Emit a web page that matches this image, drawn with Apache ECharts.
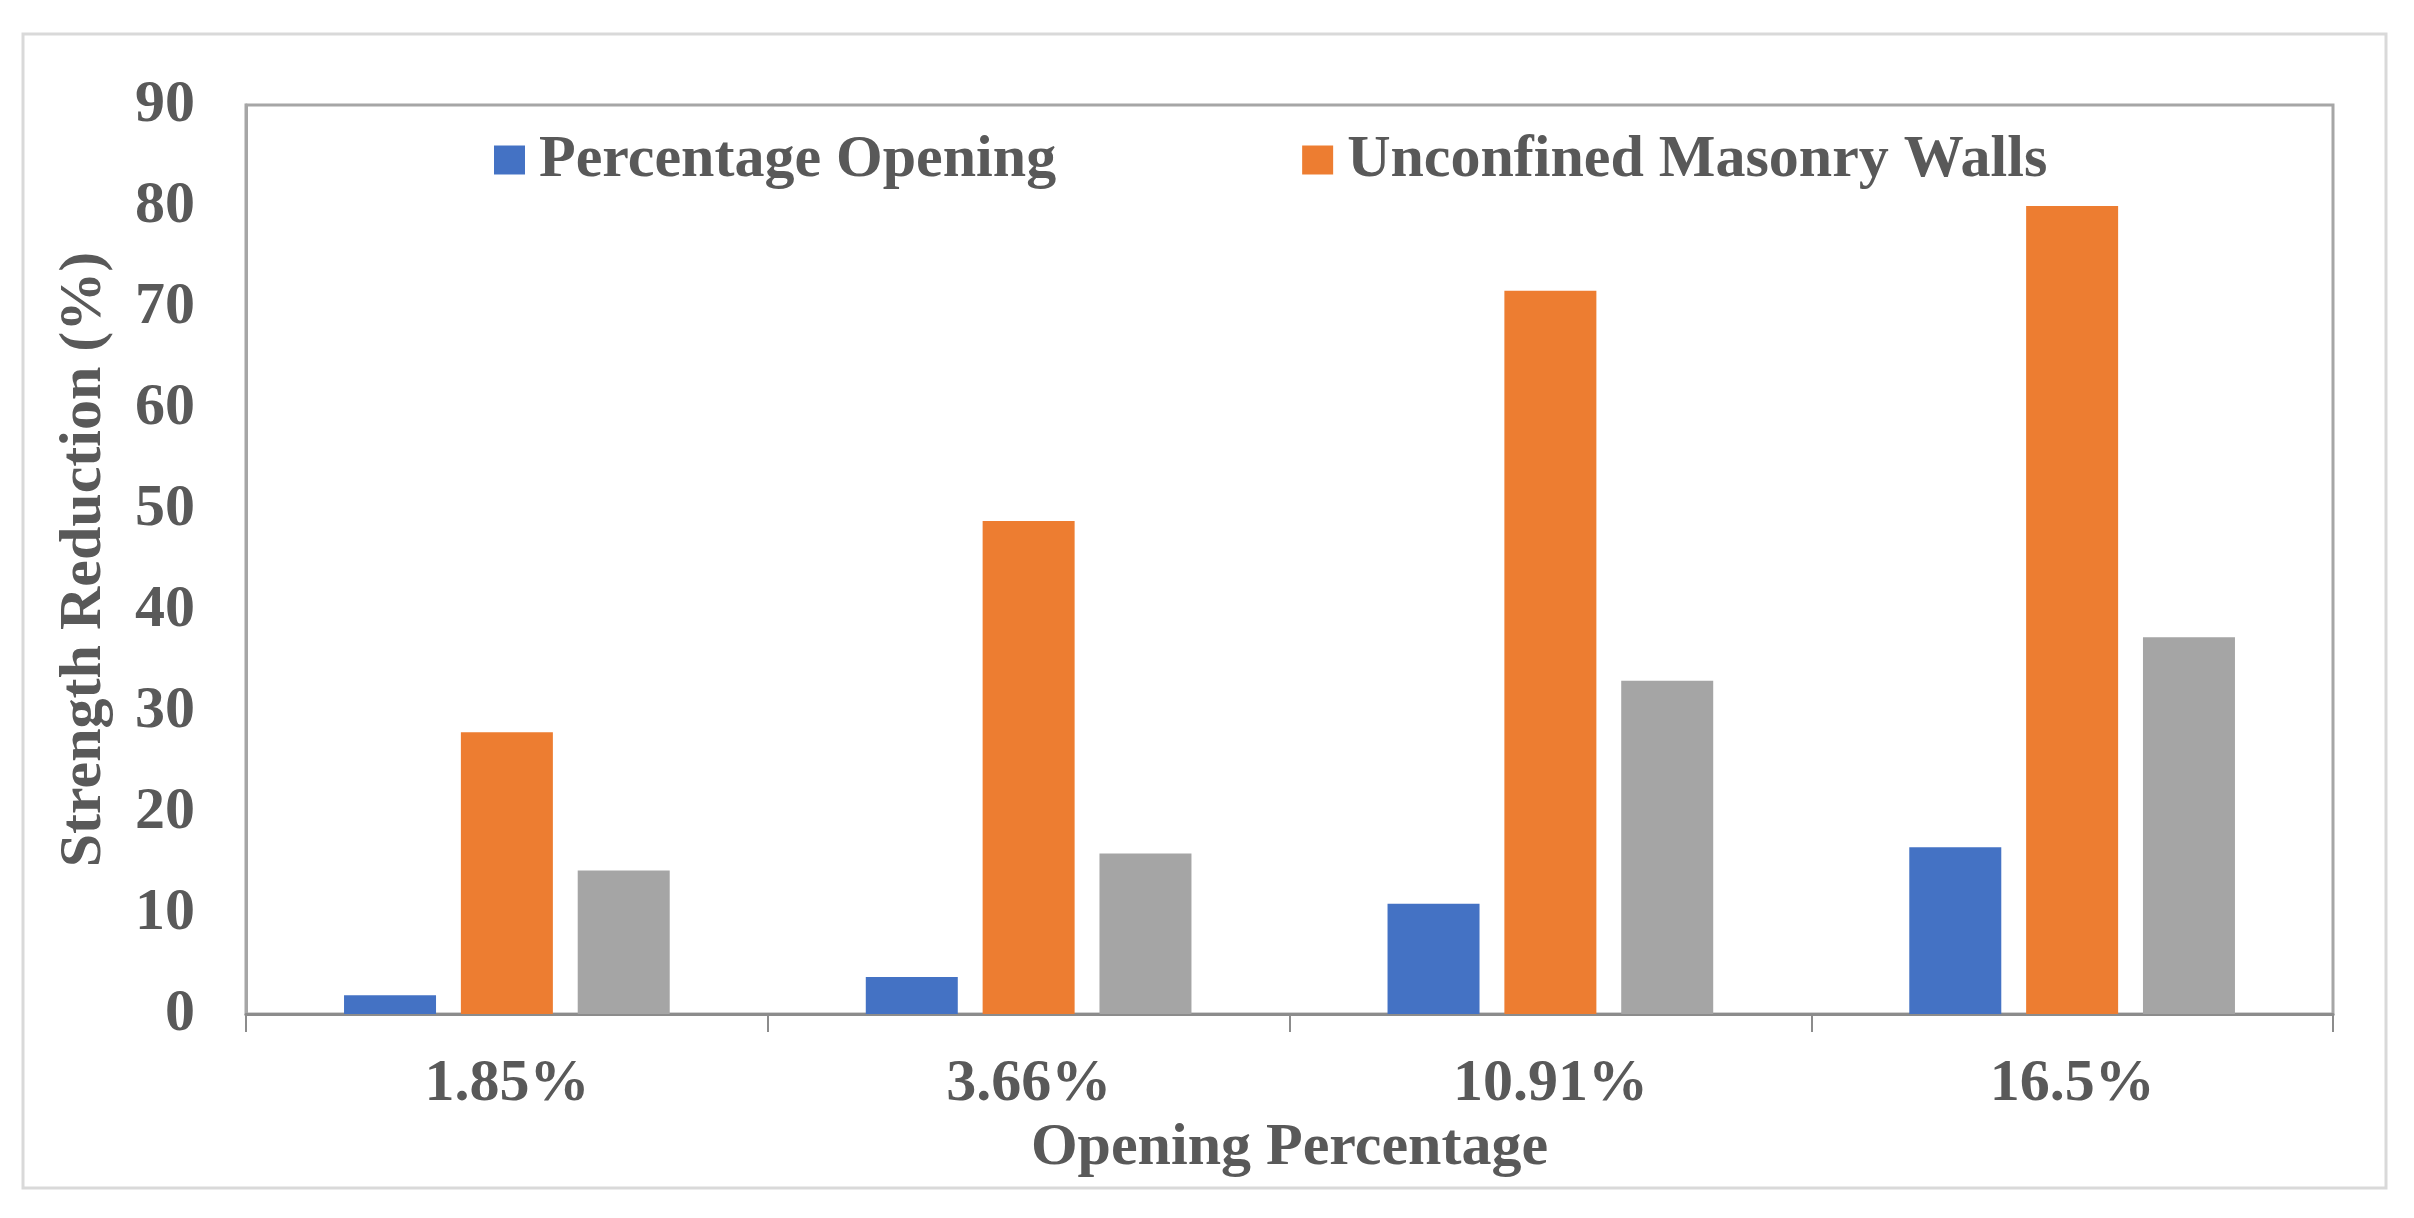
<!DOCTYPE html>
<html>
<head>
<meta charset="utf-8">
<script src="https://cdn.jsdelivr.net/npm/echarts@6/dist/echarts.min.js"></script>
<style>html,body{margin:0;padding:0;background:#fff;}#c{width:2414px;height:1218px;}</style>
</head>
<body>
<div id="c"></div>
<script>
const categories = ['1.85%', '3.66%', '10.91%', '16.5%'];
const percentageOpening = [1.85, 3.66, 10.91, 16.5];
const unconfinedMasonry = [27.9, 48.8, 71.6, 80.0];
const thirdSeries = [14.2, 15.9, 33.0, 37.3];
const yTicks = [0, 10, 20, 30, 40, 50, 60, 70, 80, 90];

const font = 'Liberation Serif';
const txt = '#595959';
const chart = echarts.init(document.getElementById('c'));
chart.setOption({
  animation: false,
  backgroundColor: '#fff',
  graphic: [{
    type: 'rect', shape: {x: 23, y: 34, width: 2363, height: 1154},
    style: {fill: 'none', stroke: '#d9d9d9', lineWidth: 3}, silent: true, z: -1
  }],
  legend: {
    data: ['Percentage Opening', 'Unconfined Masonry Walls'],
    left: 494, top: 130, padding: 0,
    itemWidth: 31, itemHeight: 29, itemGap: 246,
    icon: 'rect',
    textStyle: {fontFamily: font, fontWeight: 'bold', fontSize: 60, color: txt, padding: [0, 0, 0, 9]}
  },
  grid: {left: 246, right: 81, top: 105, bottom: 204, show: true, borderColor: '#a6a6a6', borderWidth: 3},
  xAxis: {
    type: 'category', data: categories,
    axisLine: {lineStyle: {color: '#8c8c8c', width: 3}},
    axisTick: {show: true, length: 18, lineStyle: {color: '#8c8c8c', width: 2}},
    axisLabel: {fontFamily: font, fontWeight: 'bold', fontSize: 60, color: txt, margin: 40},
    name: 'Opening Percentage', nameLocation: 'middle', nameGap: 103,
    nameTextStyle: {fontFamily: font, fontWeight: 'bold', fontSize: 60, color: txt}
  },
  yAxis: {
    type: 'value', min: yTicks[0], max: yTicks[yTicks.length - 1], interval: 10,
    splitLine: {show: false},
    axisLine: {show: true, lineStyle: {color: '#a6a6a6', width: 3}},
    axisTick: {show: false},
    axisLabel: {fontFamily: font, fontWeight: 'bold', fontSize: 60, color: txt, margin: 51},
    name: 'Strength Reduction (%)', nameLocation: 'middle', nameGap: 132, nameRotate: 90,
    nameTextStyle: {fontFamily: font, fontWeight: 'bold', fontSize: 60, color: txt}
  },
  series: [
    {name: 'Percentage Opening', type: 'bar', data: percentageOpening, barWidth: 92, barGap: '27%', itemStyle: {color: '#4472C4'}},
    {name: 'Unconfined Masonry Walls', type: 'bar', data: unconfinedMasonry, barWidth: 92, barGap: '27%', itemStyle: {color: '#ED7D31'}},
    {name: 'Series 3', type: 'bar', data: thirdSeries, barWidth: 92, barGap: '27%', itemStyle: {color: '#A5A5A5'}}
  ]
});
</script>
</body>
</html>
